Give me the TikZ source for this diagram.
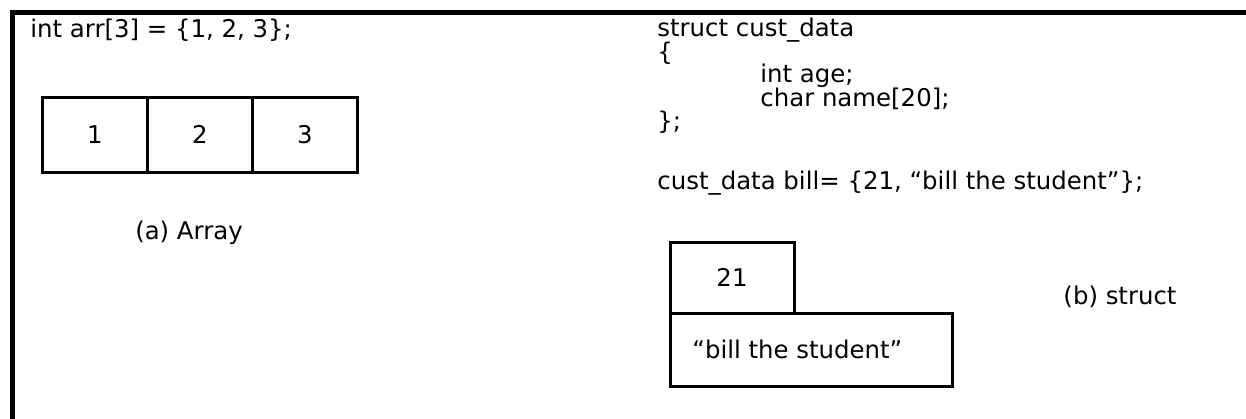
\documentclass[tikz,border=0pt]{standalone}
\usepackage{fontspec}
\setmainfont{DejaVu Sans}
\usetikzlibrary{positioning}

\begin{document}
\begin{tikzpicture}[x=0.5pt,y=-0.5pt]
        \tikzstyle{code} = [anchor=west, inner sep=0pt, font=\fontsize{12.2}{14}\selectfont]
        \tikzstyle{cellule} = [rectangle, draw=black, line width=1.5pt, outer sep=0pt, minimum width=52.5pt, minimum height=37.5pt, font=\fontsize{12.2}{14}\selectfont]
        \tikzstyle{legende} = [inner sep=0pt, font=\fontsize{12.2}{14}\selectfont]
        \useasboundingbox (0,0) rectangle (1246,418);

        % cadre
        \coordinate (cadre_bas) at (12,430);
        \coordinate (cadre_coin) at (12,12);
        \coordinate (cadre_droit) at (1260,12);
        \draw[line width=2.5pt] (cadre_bas) -- (cadre_coin) -- (cadre_droit);

        % tableau
        \node (decl_arr) [code] at (30,30) {int arr[3] = \{1, 2, 3\};};
        \node (case_un) [cellule] at (95,134.5) {1};
        \node (case_deux) [cellule, right=0pt of case_un] {2};
        \node (case_trois) [cellule, right=0pt of case_deux] {3};
        \node (leg_array) [legende] at (189,233) {(a) Array};

        % structure
        \node (struct_nom) [code] at (657,30) {struct cust\_data};
        \node (struct_open) [code] at (657,53) {\{};
        \node (champ_age) [code] at (760,76) {int age;};
        \node (champ_nom) [code] at (760,99) {char name[20];};
        \node (struct_close) [code] at (657,122) {\};};
        \node (decl_bill) [code] at (657,183) {cust\_data bill= \{21, “bill the student”\};};
        \node (case_age) [cellule, anchor=north west, minimum width=62pt, minimum height=35.5pt] at (670,242) {21};
        \node (case_nom) [cellule, anchor=north west, minimum width=141pt, minimum height=36.5pt] at (case_age.south west) {};
        \node (texte_nom) [legende, anchor=west] at ([xshift=11pt]case_nom.west) {“bill the student”};
        \node (leg_struct) [legende] at (1120,297) {(b) struct};
\end{tikzpicture}
\end{document}
